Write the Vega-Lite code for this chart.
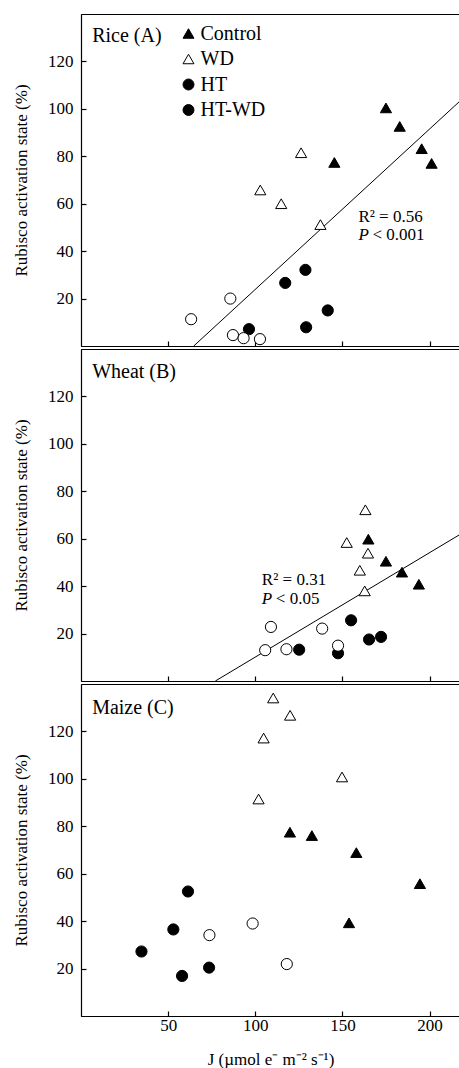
{
  "$schema": "https://vega.github.io/schema/vega-lite/v6.json",
  "padding": {"left": 12, "top": 13, "right": 0, "bottom": 0},
  "spacing": 0,
  "config": {
    "font": "Liberation Serif",
    "view": {"stroke": "black", "strokeWidth": 1},
    "axis": {
      "labelFont": "Liberation Serif", "titleFont": "Liberation Serif",
      "labelFontSize": 17, "titleFontSize": 17, "titleFontWeight": "normal",
      "labelColor": "black", "titleColor": "black",
      "domainColor": "black", "tickColor": "black", "domainWidth": 1.2, "tickWidth": 1.2,
      "grid": false, "tickSize": -5
    },
    "axisY": {"labelPadding": 13, "titlePadding": 17},
    "axisX": {"labelPadding": 6, "titlePadding": 18}
  },
  "datasets": {
    "pts": [
      {"crop": "Rice", "group": "Control", "J": 175.0, "RAS": 100.4},
      {"crop": "Rice", "group": "Control", "J": 182.9, "RAS": 92.6},
      {"crop": "Rice", "group": "Control", "J": 195.5, "RAS": 83.2},
      {"crop": "Rice", "group": "Control", "J": 201.2, "RAS": 77.0},
      {"crop": "Rice", "group": "Control", "J": 145.4, "RAS": 77.4},
      {"crop": "Rice", "group": "WD", "J": 126.3, "RAS": 81.5},
      {"crop": "Rice", "group": "WD", "J": 102.9, "RAS": 65.8},
      {"crop": "Rice", "group": "WD", "J": 114.9, "RAS": 60.0},
      {"crop": "Rice", "group": "WD", "J": 137.4, "RAS": 51.2},
      {"crop": "Rice", "group": "HT", "J": 128.8, "RAS": 32.1},
      {"crop": "Rice", "group": "HT", "J": 117.2, "RAS": 26.6},
      {"crop": "Rice", "group": "HT", "J": 141.6, "RAS": 15.0},
      {"crop": "Rice", "group": "HT", "J": 96.4, "RAS": 7.1},
      {"crop": "Rice", "group": "HT", "J": 129.2, "RAS": 7.9},
      {"crop": "Rice", "group": "HT-WD", "J": 85.7, "RAS": 20.0},
      {"crop": "Rice", "group": "HT-WD", "J": 63.2, "RAS": 11.3},
      {"crop": "Rice", "group": "HT-WD", "J": 87.2, "RAS": 4.6},
      {"crop": "Rice", "group": "HT-WD", "J": 93.3, "RAS": 3.3},
      {"crop": "Rice", "group": "HT-WD", "J": 102.7, "RAS": 2.9},
      {"crop": "Wheat", "group": "Control", "J": 164.9, "RAS": 59.8},
      {"crop": "Wheat", "group": "Control", "J": 175.0, "RAS": 50.5},
      {"crop": "Wheat", "group": "Control", "J": 184.2, "RAS": 45.9},
      {"crop": "Wheat", "group": "Control", "J": 193.9, "RAS": 40.8},
      {"crop": "Wheat", "group": "WD", "J": 163.2, "RAS": 72.2},
      {"crop": "Wheat", "group": "WD", "J": 152.5, "RAS": 58.4},
      {"crop": "Wheat", "group": "WD", "J": 164.7, "RAS": 53.9},
      {"crop": "Wheat", "group": "WD", "J": 160.0, "RAS": 46.7},
      {"crop": "Wheat", "group": "WD", "J": 162.8, "RAS": 38.0},
      {"crop": "Wheat", "group": "HT", "J": 155.0, "RAS": 25.6},
      {"crop": "Wheat", "group": "HT", "J": 172.2, "RAS": 18.6},
      {"crop": "Wheat", "group": "HT", "J": 165.3, "RAS": 17.5},
      {"crop": "Wheat", "group": "HT", "J": 125.2, "RAS": 13.2},
      {"crop": "Wheat", "group": "HT", "J": 147.5, "RAS": 11.7},
      {"crop": "Wheat", "group": "HT-WD", "J": 109.0, "RAS": 22.8},
      {"crop": "Wheat", "group": "HT-WD", "J": 138.4, "RAS": 22.1},
      {"crop": "Wheat", "group": "HT-WD", "J": 105.7, "RAS": 13.0},
      {"crop": "Wheat", "group": "HT-WD", "J": 117.9, "RAS": 13.4},
      {"crop": "Wheat", "group": "HT-WD", "J": 147.5, "RAS": 14.9},
      {"crop": "Maize", "group": "WD", "J": 110.3, "RAS": 134.1},
      {"crop": "Maize", "group": "WD", "J": 120.0, "RAS": 126.8},
      {"crop": "Maize", "group": "WD", "J": 104.8, "RAS": 117.2},
      {"crop": "Maize", "group": "WD", "J": 149.8, "RAS": 100.8},
      {"crop": "Maize", "group": "WD", "J": 101.9, "RAS": 91.5},
      {"crop": "Maize", "group": "Control", "J": 119.9, "RAS": 77.5},
      {"crop": "Maize", "group": "Control", "J": 132.5, "RAS": 76.1},
      {"crop": "Maize", "group": "Control", "J": 158.0, "RAS": 68.9},
      {"crop": "Maize", "group": "Control", "J": 194.5, "RAS": 55.8},
      {"crop": "Maize", "group": "Control", "J": 153.8, "RAS": 39.3},
      {"crop": "Maize", "group": "HT", "J": 61.4, "RAS": 52.5},
      {"crop": "Maize", "group": "HT", "J": 53.0, "RAS": 36.5},
      {"crop": "Maize", "group": "HT", "J": 34.7, "RAS": 27.2},
      {"crop": "Maize", "group": "HT", "J": 58.0, "RAS": 16.9},
      {"crop": "Maize", "group": "HT", "J": 73.5, "RAS": 20.4},
      {"crop": "Maize", "group": "HT-WD", "J": 98.5, "RAS": 39.0},
      {"crop": "Maize", "group": "HT-WD", "J": 73.7, "RAS": 34.1},
      {"crop": "Maize", "group": "HT-WD", "J": 118.1, "RAS": 21.9}
    ],
    "fit": [
      {"crop": "Rice", "J": 64.7, "RAS": 0},
      {"crop": "Rice", "J": 217.5, "RAS": 103.3},
      {"crop": "Wheat", "J": 77.1, "RAS": 0},
      {"crop": "Wheat", "J": 217.5, "RAS": 61.8}
    ]
  },
  "vconcat": [
    {
      "width": 379, "height": 332,
      "layer": [
        {
          "data": {"name": "fit"},
          "transform": [{"filter": "datum.crop === 'Rice'"}],
          "mark": {"type": "line", "color": "black", "strokeWidth": 1, "clip": true},
          "encoding": {
            "x": {"field": "J", "type": "quantitative", "scale": {"domain": [0, 217.5], "nice": false, "zero": false}, "axis": {"values": [50, 100, 150, 200], "labels": false, "title": null}},
            "y": {"field": "RAS", "type": "quantitative", "scale": {"domain": [0, 140], "nice": false}, "axis": {"values": [20, 40, 60, 80, 100, 120], "title": "Rubisco activation state (%)"}}
          }
        },
        {
          "data": {"name": "pts"},
          "transform": [{"filter": "datum.crop === 'Rice'"}],
          "mark": {"type": "point", "filled": false, "stroke": "black", "strokeWidth": 1, "opacity": 1, "size": 125},
          "encoding": {
            "x": {"field": "J", "type": "quantitative"},
            "y": {"field": "RAS", "type": "quantitative"},
            "shape": {"field": "group", "type": "nominal", "title": null, "scale": {"domain": ["Control", "WD", "HT", "HT-WD"], "range": ["triangle-up", "triangle-up", "circle", "circle"]},
              "legend": {"orient": "none", "legendX": 97.5, "legendY": 9.5, "labelFont": "Liberation Serif", "labelFontSize": 20, "labelColor": "black", "symbolSize": 120, "symbolStrokeColor": "black", "symbolStrokeWidth": 1, "rowPadding": 5.5, "labelOffset": 2, "padding": 0, "encoding": {"symbols": {"stroke": {"value": "black"}, "strokeWidth": {"value": 1}}}}},
            "fill": {"condition": {"test": "datum.group === 'HT-WD'", "value": "white"}, "field": "group", "type": "nominal", "title": null, "scale": {"domain": ["Control", "WD", "HT", "HT-WD"], "range": ["black", "white", "black", "black"]},
              "legend": {"orient": "none", "legendX": 97.5, "legendY": 9.5, "labelFont": "Liberation Serif", "labelFontSize": 20, "labelColor": "black", "symbolSize": 120, "symbolStrokeColor": "black", "symbolStrokeWidth": 1, "rowPadding": 5.5, "labelOffset": 2, "padding": 0, "encoding": {"symbols": {"stroke": {"value": "black"}, "strokeWidth": {"value": 1}}}}}
          }
        },
        {
          "data": {"values": [{}]},
          "mark": {"type": "text", "align": "left", "baseline": "middle", "fontSize": 20, "font": "Liberation Serif", "color": "black"},
          "encoding": {"x": {"datum": 6.4, "type": "quantitative"}, "y": {"datum": 130.6, "type": "quantitative"}, "text": {"value": "Rice (A)"}}
        },
        {
          "data": {"values": [{}]},
          "mark": {"type": "text", "align": "left", "baseline": "middle", "fontSize": 17, "font": "Liberation Serif", "color": "black"},
          "encoding": {"x": {"datum": 159.2, "type": "quantitative"}, "y": {"datum": 54.5, "type": "quantitative"}, "text": {"value": "R² = 0.56"}}
        },
        {
          "data": {"values": [{}]},
          "mark": {"type": "text", "align": "left", "baseline": "middle", "fontSize": 17, "font": "Liberation Serif", "fontStyle": "italic", "color": "black"},
          "encoding": {"x": {"datum": 159.2, "type": "quantitative"}, "y": {"datum": 46.9, "type": "quantitative"}, "text": {"value": "P"}}
        },
        {
          "data": {"values": [{}]},
          "mark": {"type": "text", "align": "left", "baseline": "middle", "fontSize": 17, "font": "Liberation Serif", "color": "black", "dx": 14},
          "encoding": {"x": {"datum": 159.2, "type": "quantitative"}, "y": {"datum": 46.9, "type": "quantitative"}, "text": {"value": "< 0.001"}}
        }
      ]
    },
    {
      "width": 379, "height": 332,
      "layer": [
        {
          "data": {"name": "fit"},
          "transform": [{"filter": "datum.crop === 'Wheat'"}],
          "mark": {"type": "line", "color": "black", "strokeWidth": 1, "clip": true},
          "encoding": {
            "x": {"field": "J", "type": "quantitative", "scale": {"domain": [0, 217.5], "nice": false, "zero": false}, "axis": {"values": [50, 100, 150, 200], "labels": false, "title": null}},
            "y": {"field": "RAS", "type": "quantitative", "scale": {"domain": [0, 140], "nice": false}, "axis": {"values": [20, 40, 60, 80, 100, 120], "title": "Rubisco activation state (%)"}}
          }
        },
        {
          "data": {"name": "pts"},
          "transform": [{"filter": "datum.crop === 'Wheat'"}],
          "mark": {"type": "point", "filled": false, "stroke": "black", "strokeWidth": 1, "opacity": 1, "size": 125},
          "encoding": {
            "x": {"field": "J", "type": "quantitative"},
            "y": {"field": "RAS", "type": "quantitative"},
            "shape": {"field": "group", "type": "nominal", "title": null, "scale": {"domain": ["Control", "WD", "HT", "HT-WD"], "range": ["triangle-up", "triangle-up", "circle", "circle"]}},
            "fill": {"condition": {"test": "datum.group === 'HT-WD'", "value": "white"}, "field": "group", "type": "nominal", "title": null, "scale": {"domain": ["Control", "WD", "HT", "HT-WD"], "range": ["black", "white", "black", "black"]}}
          }
        },
        {
          "data": {"values": [{}]},
          "mark": {"type": "text", "align": "left", "baseline": "middle", "fontSize": 20, "font": "Liberation Serif", "color": "black"},
          "encoding": {"x": {"datum": 6.4, "type": "quantitative"}, "y": {"datum": 130.5, "type": "quantitative"}, "text": {"value": "Wheat (B)"}}
        },
        {
          "data": {"values": [{}]},
          "mark": {"type": "text", "align": "left", "baseline": "middle", "fontSize": 17, "font": "Liberation Serif", "color": "black"},
          "encoding": {"x": {"datum": 103.8, "type": "quantitative"}, "y": {"datum": 42.4, "type": "quantitative"}, "text": {"value": "R² = 0.31"}}
        },
        {
          "data": {"values": [{}]},
          "mark": {"type": "text", "align": "left", "baseline": "middle", "fontSize": 17, "font": "Liberation Serif", "fontStyle": "italic", "color": "black"},
          "encoding": {"x": {"datum": 103.8, "type": "quantitative"}, "y": {"datum": 34.7, "type": "quantitative"}, "text": {"value": "P"}}
        },
        {
          "data": {"values": [{}]},
          "mark": {"type": "text", "align": "left", "baseline": "middle", "fontSize": 17, "font": "Liberation Serif", "color": "black", "dx": 14},
          "encoding": {"x": {"datum": 103.8, "type": "quantitative"}, "y": {"datum": 34.7, "type": "quantitative"}, "text": {"value": "< 0.05"}}
        }
      ]
    },
    {
      "width": 379, "height": 332,
      "layer": [
        {
          "data": {"name": "pts"},
          "transform": [{"filter": "datum.crop === 'Maize'"}],
          "mark": {"type": "point", "filled": false, "stroke": "black", "strokeWidth": 1, "opacity": 1, "size": 125},
          "encoding": {
            "x": {"field": "J", "type": "quantitative", "scale": {"domain": [0, 217.5], "nice": false, "zero": false}, "axis": {"values": [50, 100, 150, 200], "title": "J (µmol e⁻ m⁻² s⁻¹)"}},
            "y": {"field": "RAS", "type": "quantitative", "scale": {"domain": [0, 140], "nice": false}, "axis": {"values": [20, 40, 60, 80, 100, 120], "title": "Rubisco activation state (%)"}},
            "shape": {"field": "group", "type": "nominal", "title": null, "scale": {"domain": ["Control", "WD", "HT", "HT-WD"], "range": ["triangle-up", "triangle-up", "circle", "circle"]}},
            "fill": {"condition": {"test": "datum.group === 'HT-WD'", "value": "white"}, "field": "group", "type": "nominal", "title": null, "scale": {"domain": ["Control", "WD", "HT", "HT-WD"], "range": ["black", "white", "black", "black"]}}
          }
        },
        {
          "data": {"values": [{}]},
          "mark": {"type": "text", "align": "left", "baseline": "middle", "fontSize": 20, "font": "Liberation Serif", "color": "black"},
          "encoding": {"x": {"datum": 6.4, "type": "quantitative"}, "y": {"datum": 130.0, "type": "quantitative"}, "text": {"value": "Maize (C)"}}
        }
      ]
    }
  ]
}
